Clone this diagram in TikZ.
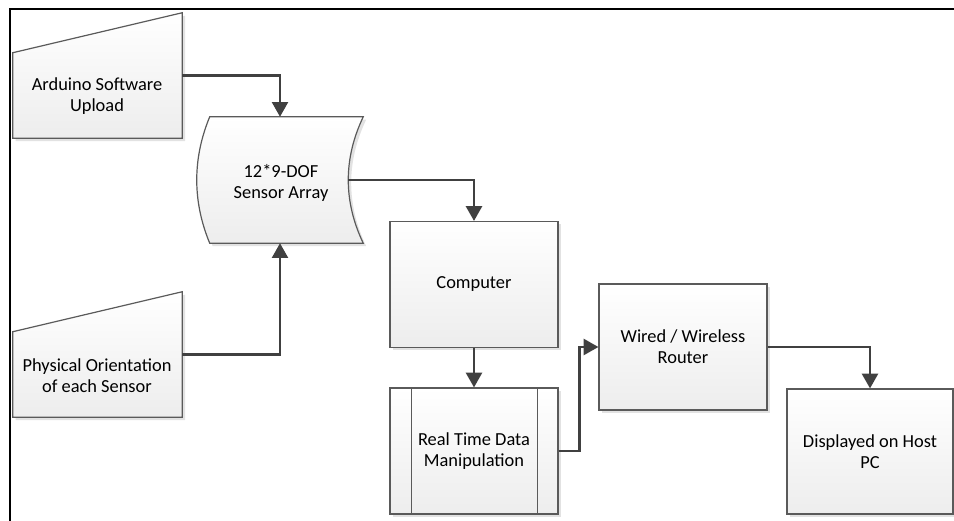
\documentclass[tikz,border=0pt]{standalone}
\usepackage{fontspec}
\setmainfont{Carlito}
\usetikzlibrary{arrows.meta,shadows,calc}
\definecolor{bord}{HTML}{5A5A5A}
\definecolor{boxbot}{HTML}{EDEDED}
\definecolor{shad}{HTML}{E2E2E2}
\definecolor{conncol}{HTML}{404040}
\newcommand\diaglbl{\fontsize{13.8}{15.8}\selectfont}
\tikzset{
  shapefill/.style={draw=bord, line width=0.9pt, top color=white, bottom color=boxbot,
    drop shadow={shadow xshift=2.2pt, shadow yshift=-2.2pt, fill=shad, opacity=1}},
  box/.style={shapefill, rectangle, minimum width=126pt, minimum height=94.5pt,
    inner sep=0pt, align=center, font=\diaglbl},
  frame/.style={inner sep=0pt, minimum width=126.75pt, minimum height=93.75pt},
  lbl/.style={align=center, font=\diaglbl, inner sep=0pt},
  conn/.style={draw=conncol, line width=1.7pt, -{Triangle[length=11pt,width=12pt]}},
  inner/.style={draw=bord, line width=0.9pt},
}
\begin{document}
\begin{tikzpicture}[x=0.75pt,y=-0.75pt]
\useasboundingbox (0,0) rectangle (954,521);
\draw[line width=1.5pt] (954,9) -- (10,9) -- (10,521);

% manual inputs
\node[frame] (ard) at (97.5,75.5) {};
\draw[shapefill] (ard.south west) -- (ard.south east) -- (ard.north east)
  -- ([yshift=-30pt]ard.north west) -- cycle;
\node[lbl] (ardt) at (97,96.5) {Arduino Software\\Upload};

\node[frame] (phys) at (97.5,354.5) {};
\draw[shapefill] (phys.south west) -- (phys.south east) -- (phys.north east)
  -- ([yshift=-30pt]phys.north west) -- cycle;
\node[lbl] (physt) at (97,375.5) {Physical Orientation\\of each Sensor};

% stored data shape
\node[frame, minimum width=124.5pt, minimum height=94.5pt] (sens) at (280,180) {};
\draw[shapefill] ([xshift=9.75pt]sens.north west) -- (sens.north east)
  .. controls ([xshift=-15pt,yshift=-31.5pt]sens.north east) and ([xshift=-15pt,yshift=31.5pt]sens.south east) .. (sens.south east)
  -- ([xshift=9.75pt]sens.south west)
  .. controls ([xshift=-3.25pt,yshift=31.5pt]sens.south west) and ([xshift=-3.25pt,yshift=-31.5pt]sens.north west) .. ([xshift=9.75pt]sens.north west)
  -- cycle;
\node[lbl] (senst) at (281,182.5) {12*9-DOF\\Sensor Array};

% boxes
\node[box] (comp) at (474,284.5) {Computer};
\node[box] (rtdm) at (474,451) {Real Time Data\\Manipulation};
\draw[inner] ([xshift=16.5pt]rtdm.north west) -- ([xshift=16.5pt]rtdm.south west);
\draw[inner] ([xshift=-15.75pt]rtdm.north east) -- ([xshift=-15.75pt]rtdm.south east);
\node[box] (router) at (683,347) {Wired / Wireless\\Router};
\node[box, minimum width=124.5pt, minimum height=93.75pt] (disp) at (870,451.5) {Displayed on Host\\PC};

% connectors
\draw[conn] (ard.east) -| (sens.north);
\draw[conn] (phys.east) -| (sens.south);
\draw[conn] ([xshift=-11.25pt]sens.east) -| (comp.north);
\draw[conn] (comp.south) -- (rtdm.north);
\draw[conn] (rtdm.east) -- ++(21,0) |- (router.west);
\draw[conn] (router.east) -| (disp.north);
\end{tikzpicture}
\end{document}
